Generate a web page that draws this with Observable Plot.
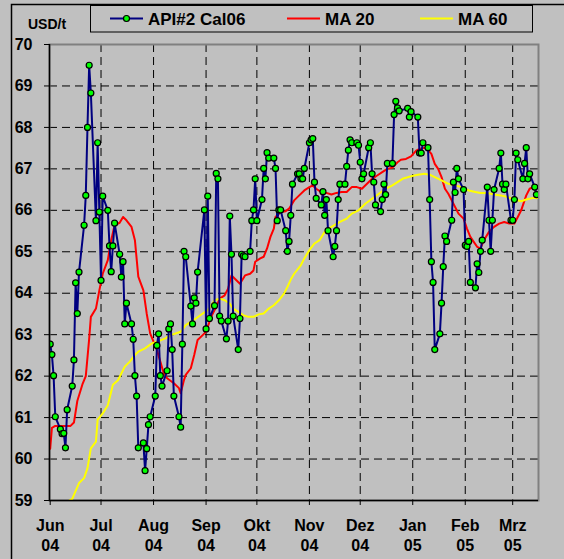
<!DOCTYPE html>
<html>
<head>
<meta charset="utf-8">
<script src="https://cdn.jsdelivr.net/npm/d3@7"></script>
<script src="https://cdn.jsdelivr.net/npm/@observablehq/plot@0.6"></script>
<style>
  html, body { margin: 0; padding: 0; background: #c0c0c0; overflow: hidden; }
</style>
</head>
<body>
<div id="chart"></div>
<script>
// ---- Data ----
const firstTradingDay = "2004-05-28";
const lastTradingDay = "2005-03-15";
const holidays = ["2004-05-31", "2004-08-30", "2004-12-27", "2004-12-28", "2005-01-03"];

// API#2 Cal06, one value per trading day (USD/t)
const apiValues = [
  61.95,                               // May 28
  62.77, 62.52, 62.01, 61.02,          // Jun 1-4
  60.72, 60.61, 60.62, 60.27, 61.19,   // Jun 7-11
  61.76, 62.39, 64.25, 63.51, 64.51,   // Jun 14-18
  65.64, 66.36, 68.00, 69.50, 68.83,   // Jun 21-25
  65.75, 67.63, 65.96, 64.31, 66.34,   // Jun 28-Jul 2
  66.00, 65.14, 64.52, 65.14, 65.69,   // Jul 5-9
  64.94, 64.39, 64.76, 63.26, 63.76,   // Jul 12-16
  63.26, 62.89, 62.01, 61.52, 60.27,   // Jul 19-23
  60.39, 59.72, 60.25, 60.83, 61.02,   // Jul 26-30
  61.52, 62.74, 63.02, 62.01, 61.76,   // Aug 2-6
  62.13, 63.14, 63.26, 62.64, 61.52,   // Aug 9-13
  61.02, 60.77, 62.77, 65.01, 64.88,   // Aug 16-20
  63.69, 63.26, 63.89, 63.76, 64.51,   // Aug 23-27
  66.01, 63.14, 66.34, 63.39,          // Aug 31-Sep 3
  63.70, 66.89, 66.76, 63.45, 63.33,   // Sep 6-10
  62.90, 63.33, 65.86, 64.94, 63.45,   // Sep 13-17
  62.64, 63.39, 64.94, 64.90, 64.88,   // Sep 20-24
  65.01, 65.75, 66.01, 66.76, 65.75,   // Sep 27-Oct 1
  66.26, 67.01, 66.76, 67.39, 67.26,   // Oct 4-8
  67.26, 67.01, 65.75, 66.01, 66.01,   // Oct 11-15
  65.51, 65.01, 65.25, 65.88, 66.63,   // Oct 18-22
  66.88, 66.88, 66.76, 66.76, 67.01,   // Oct 25-29
  67.63, 67.70, 67.73, 66.68, 66.29,   // Nov 1-5
  66.13, 66.45, 65.88, 66.26, 65.51,   // Nov 8-12
  64.88, 65.13, 65.51, 66.26, 66.63,   // Nov 15-19
  66.63, 67.06, 67.45, 67.70, 67.63,   // Nov 22-26
  67.63, 67.57, 67.16, 66.76, 66.88,   // Nov 29-Dec 3
  67.51, 67.63, 66.88, 66.68, 66.13,   // Dec 6-10
  65.97, 66.26, 66.63, 66.38, 67.13,   // Dec 13-17
  67.13, 68.31, 68.63, 68.47, 68.40,   // Dec 20-24
  68.46, 68.25, 68.38,                 // Dec 29-31
  68.25, 67.38, 67.38, 67.63,          // Jan 4-7
  67.51, 66.26, 64.76, 64.26, 62.64,   // Jan 10-14
  63.02, 63.76, 64.64, 65.38, 65.25,   // Jan 17-21
  65.76, 66.68, 66.43, 67.01, 66.76,   // Jan 24-28
  66.50, 65.16, 65.13, 65.25, 64.26,   // Jan 31-Feb 4
  64.13, 64.71, 64.50, 65.01, 65.28,   // Feb 7-11
  66.56, 65.76, 65.01, 65.76, 66.50,   // Feb 14-18
  67.01, 67.38, 66.63, 66.50, 66.63,   // Feb 21-25
  65.76, 65.76, 66.26, 67.38, 67.22,   // Feb 28-Mar 4
  66.76, 67.13, 67.51, 66.76, 66.88,   // Mar 7-11
  66.56, 66.38                         // Mar 14-15
];

// MA 20
const ma20Dates = ["2004-06-01","2004-06-02","2004-06-04","2004-06-13","2004-06-15","2004-06-17","2004-06-20","2004-06-22","2004-06-24","2004-06-25","2004-06-28","2004-06-30","2004-07-02","2004-07-05","2004-07-07","2004-07-09","2004-07-12","2004-07-14","2004-07-16","2004-07-19","2004-07-21","2004-07-23","2004-07-26","2004-07-28","2004-07-30","2004-08-01","2004-08-03","2004-08-05","2004-08-07","2004-08-09","2004-08-13","2004-08-16","2004-08-17","2004-08-19","2004-08-20","2004-08-23","2004-08-25","2004-08-27","2004-08-30","2004-09-01","2004-09-03","2004-09-04","2004-09-07","2004-09-09","2004-09-12","2004-09-14","2004-09-16","2004-09-18","2004-09-21","2004-09-24","2004-09-27","2004-09-29","2004-09-30","2004-10-03","2004-10-05","2004-10-07","2004-10-09","2004-10-11","2004-10-12","2004-10-15","2004-10-18","2004-10-20","2004-10-23","2004-10-26","2004-10-29","2004-11-01","2004-11-03","2004-11-05","2004-11-08","2004-11-11","2004-11-14","2004-11-17","2004-11-20","2004-11-23","2004-11-26","2004-11-29","2004-12-02","2004-12-05","2004-12-08","2004-12-11","2004-12-14","2004-12-17","2004-12-20","2004-12-23","2004-12-25","2004-12-28","2004-12-31","2005-01-03","2005-01-05","2005-01-08","2005-01-10","2005-01-12","2005-01-14","2005-01-16","2005-01-18","2005-01-20","2005-01-22","2005-01-24","2005-01-26","2005-01-28","2005-01-31","2005-02-02","2005-02-04","2005-02-06","2005-02-08","2005-02-10","2005-02-12","2005-02-15","2005-02-18","2005-02-21","2005-02-24","2005-02-27","2005-03-02","2005-03-04","2005-03-06","2005-03-07","2005-03-09","2005-03-11","2005-03-13","2005-03-15"];
const ma20Values = [60.25,60.75,60.80,60.80,60.88,61.40,61.80,62.00,62.90,63.43,63.63,64.07,64.47,64.80,65.28,65.64,65.70,65.84,65.76,65.60,65.28,64.40,64.07,63.50,63.03,62.83,62.63,62.35,62.07,61.95,61.83,61.71,61.59,61.91,62.03,62.19,62.51,62.87,62.99,63.07,63.31,63.43,63.67,63.87,63.95,64.11,64.43,64.35,64.23,64.43,64.47,64.55,64.76,64.84,64.88,65.08,65.36,65.56,65.84,65.96,65.98,66.04,66.24,66.36,66.48,66.56,66.60,66.52,66.44,66.42,66.38,66.42,66.44,66.44,66.56,66.56,66.52,66.64,66.76,66.84,66.92,67.00,67.03,67.16,67.22,67.24,67.30,67.44,67.48,67.51,67.46,67.36,67.12,67.00,66.80,66.52,66.40,66.24,66.08,65.92,65.80,65.56,65.36,65.24,65.12,65.08,65.28,65.48,65.60,65.68,65.72,65.68,65.68,65.84,66.00,66.12,66.36,66.52,66.56,66.44];

// MA 60
const ma60Dates = ["2004-06-10","2004-06-14","2004-06-18","2004-06-21","2004-06-23","2004-06-25","2004-06-28","2004-06-29","2004-07-02","2004-07-05","2004-07-08","2004-07-11","2004-07-15","2004-07-18","2004-07-21","2004-07-23","2004-07-27","2004-07-31","2004-08-03","2004-08-08","2004-08-11","2004-08-14","2004-08-17","2004-08-20","2004-08-23","2004-08-26","2004-08-30","2004-09-02","2004-09-04","2004-09-06","2004-09-09","2004-09-12","2004-09-15","2004-09-17","2004-09-20","2004-09-23","2004-09-26","2004-09-29","2004-10-02","2004-10-05","2004-10-08","2004-10-11","2004-10-14","2004-10-17","2004-10-19","2004-10-21","2004-10-23","2004-10-27","2004-10-29","2004-11-01","2004-11-04","2004-11-07","2004-11-10","2004-11-14","2004-11-19","2004-11-23","2004-11-26","2004-11-30","2004-12-04","2004-12-08","2004-12-12","2004-12-16","2004-12-20","2004-12-23","2004-12-26","2004-12-31","2005-01-04","2005-01-08","2005-01-11","2005-01-14","2005-01-18","2005-01-22","2005-01-26","2005-01-30","2005-02-03","2005-02-07","2005-02-10","2005-02-14","2005-02-18","2005-02-22","2005-02-26","2005-03-02","2005-03-06","2005-03-09","2005-03-13","2005-03-16"];
const ma60Values = [58.94,59.04,59.42,59.54,59.78,60.26,60.42,60.95,61.10,61.30,61.79,61.90,62.23,62.35,62.51,62.59,62.67,62.79,62.83,62.91,62.99,63.03,63.07,63.23,63.31,63.39,63.51,63.59,63.71,63.83,63.87,63.83,63.75,63.63,63.55,63.47,63.43,63.43,63.49,63.51,63.63,63.71,63.83,63.99,64.15,64.33,64.47,64.68,64.84,65.04,65.20,65.28,65.48,65.60,65.72,65.80,65.92,66.00,66.16,66.28,66.40,66.52,66.60,66.68,66.76,66.82,66.86,66.88,66.86,66.80,66.72,66.64,66.60,66.56,66.48,66.44,66.42,66.42,66.38,66.36,66.32,66.26,66.22,66.26,66.30,66.30];

// Axes
const monthTicks = ["2004-06-01","2004-07-01","2004-08-01","2004-09-01","2004-10-01","2004-11-01","2004-12-01","2005-01-01","2005-02-01","2005-03-01"];
const monthLabels = ["Jun","Jul","Aug","Sep","Okt","Nov","Dez","Jan","Feb","Mrz"];
const yearLabels = ["04","04","04","04","04","04","04","05","05","05"];
const yTicks = [59,60,61,62,63,64,65,66,67,68,69,70];
const seriesNames = ["API#2 Cal06", "MA 20", "MA 60"];
const seriesColors = ["#000080", "#ff0000", "#ffff00"];
const unitLabel = "USD/t";

// ---- Build tables ----
const holidaySet = new Set(holidays);
const tradingDays = d3.utcDays(new Date(firstTradingDay), d3.utcDay.offset(new Date(lastTradingDay), 1))
  .filter(d => d.getUTCDay() !== 0 && d.getUTCDay() !== 6 && !holidaySet.has(d3.utcFormat("%Y-%m-%d")(d)));
if (tradingDays.length !== apiValues.length) console.error("length mismatch", tradingDays.length, apiValues.length);
const api = apiValues.map((v, i) => ({date: tradingDays[i], value: v}));
const ma20 = ma20Values.map((v, i) => ({date: new Date(ma20Dates[i]), value: v}));
const ma60 = ma60Values.map((v, i) => ({date: new Date(ma60Dates[i]), value: v}));
const ticks = monthTicks.map(d => new Date(d));
const tickText = new Map(ticks.map((d, i) => [+d, monthLabels[i] + "\n" + yearLabels[i]]));

const xStart = new Date(Date.UTC(2004, 4, 31, 14));
const xEnd = new Date(Date.UTC(2005, 2, 16, 5, 30));
const font = "'Liberation Sans', Arial, Helvetica, sans-serif";
const dash = "8,5";

const chart = Plot.plot({
  width: 564,
  height: 559,
  marginLeft: 49,
  marginRight: 26,
  marginTop: 44,
  marginBottom: 59,
  style: {background: "#c0c0c0", color: "black", fontFamily: font, fontSize: "16px", fontWeight: "bold", overflow: "hidden"},
  x: {type: "utc", domain: [xStart, xEnd]},
  y: {domain: [59, 70]},
  marks: [
    Plot.gridY(yTicks.slice(1, -1), {stroke: "black", strokeOpacity: 1, strokeWidth: 1, strokeDasharray: dash}),
    Plot.gridX(ticks.slice(1), {stroke: "black", strokeOpacity: 1, strokeWidth: 1, strokeDasharray: dash}),
    Plot.frame({stroke: "#808080", strokeWidth: 2}),
    Plot.line(ma20, {x: "date", y: "value", stroke: seriesColors[1], strokeWidth: 2, clip: true}),
    Plot.line(ma60, {x: "date", y: "value", stroke: seriesColors[2], strokeWidth: 2, clip: true}),
    Plot.line(api, {x: "date", y: "value", stroke: seriesColors[0], strokeWidth: 2, clip: true}),
    Plot.dot(api, {x: "date", y: "value", r: 3, fill: "#00ff00", stroke: "black", strokeWidth: 1.2, clip: true}),
    Plot.axisY({ticks: yTicks, tickSize: 5, tickPadding: 12, tickFormat: d => String(d), label: null, fontSize: 16, fontWeight: "bold"}),
    Plot.axisX({ticks: ticks, tickSize: 5, tickPadding: 12, tickFormat: d => tickText.get(+d), label: null, fontSize: 16, fontWeight: "bold", lineHeight: 1.22}),
    Plot.ruleX([xStart], {stroke: "black", strokeWidth: 1.5}),
    Plot.ruleY([59], {stroke: "black", strokeWidth: 1.5})
  ]
});

// ---- Decorations: outer border, unit label, legend ----
const svg = d3.select(chart);
svg.append("rect").attr("x", 11.5).attr("y", 4.5).attr("width", 800).attr("height", 800)
  .attr("fill", "none").attr("stroke", "black").attr("stroke-width", 1.5);
svg.append("text").attr("x", 28).attr("y", 29).attr("text-anchor", "start").attr("font-family", font)
  .attr("font-size", 14).attr("font-weight", "bold").attr("fill", "black").text(unitLabel);

const legend = svg.append("g");
legend.append("rect").attr("x", 90.5).attr("y", 5.5).attr("width", 442).attr("height", 26.5)
  .attr("fill", "none").attr("stroke", "black").attr("stroke-width", 1);
const legendX = [110, 287, 420];
seriesNames.forEach((name, i) => {
  const x0 = legendX[i];
  legend.append("line").attr("x1", x0).attr("x2", x0 + 33).attr("y1", 18.5).attr("y2", 18.5)
    .attr("stroke", seriesColors[i]).attr("stroke-width", 2);
  if (i === 0) {
    legend.append("circle").attr("cx", x0 + 16.5).attr("cy", 18.5).attr("r", 3)
      .attr("fill", "#00ff00").attr("stroke", "black").attr("stroke-width", 1.2);
  }
  legend.append("text").attr("x", x0 + 38).attr("y", 25).attr("text-anchor", "start").attr("font-family", font)
    .attr("font-size", 17).attr("font-weight", "bold").attr("fill", "black").text(name);
});

document.getElementById("chart").appendChild(chart);
</script>
</body>
</html>
